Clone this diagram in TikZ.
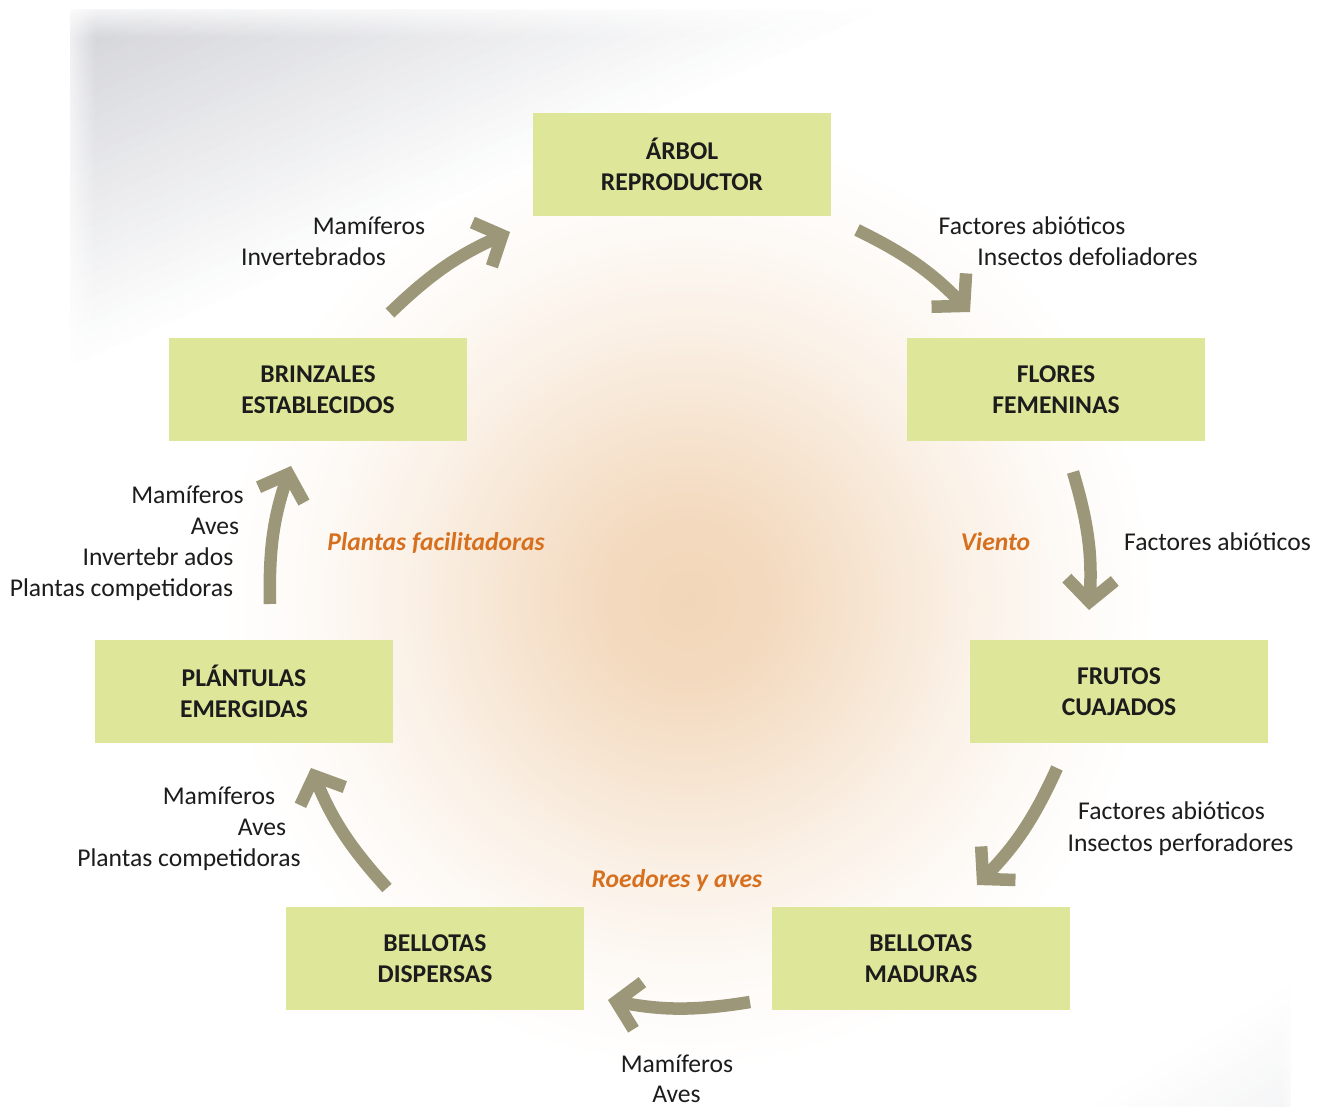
\documentclass[tikz,border=0pt]{standalone}
\usepackage{fontspec}
\setmainfont{Carlito}
\usetikzlibrary{arrows.meta,fadings}
\definecolor{boxc}{RGB}{221,230,153}
\definecolor{arrc}{RGB}{155,151,120}
\definecolor{orangec}{RGB}{214,112,30}
\definecolor{glowc}{RGB}{242,214,184}
\definecolor{shadc}{RGB}{210,211,216}
\definecolor{txtc}{RGB}{28,28,28}
\pgfdeclareradialshading{glowsh}{\pgfpointorigin}{color(0bp)=(glowc); color(5bp)=(glowc!88!white); color(10bp)=(glowc!62!white); color(15bp)=(glowc!34!white); color(20bp)=(glowc!13!white); color(25bp)=(white); color(50bp)=(white)}
\begin{document}
\begin{tikzpicture}[x=1pt,y=1pt,
  stage/.style={fill=boxc, minimum width=298pt, minimum height=103pt, inner sep=0pt, align=center, font=\fontsize{25.6}{31}\selectfont\bfseries, text=txtc},
  lbl/.style={anchor=base, inner sep=0pt, font=\fontsize{25.6}{31}\selectfont, text=txtc},
  agent/.style={anchor=base, inner sep=0pt, font=\fontsize{25.6}{31}\selectfont\bfseries\itshape, text=orangec},
  flow/.style={draw=arrc, line width=12.5pt, -{Straight Barb[length=22pt,width=48pt]}, bend left=10}
]
\useasboundingbox (0,0) rectangle (1321,1106);
\fill[white] (0,0) rectangle (1321,1106);
\begin{scope}
\clip (0,0) rectangle (1321,1106);
% central glow
\shade[shading=glowsh] (688,506) circle (470);
% top-left shadow
\foreach \i in {0,...,29} {
  \pgfmathsetmacro\f{1-\i/30}
  \pgfmathsetmacro\c{(\i+1)/30*100}
  \pgfmathsetmacro\ly{1096-356*\f}
  \pgfmathsetmacro\tx{70+810*\f}
  \fill[shadc!\c!white] (70,1096) -- (70,\ly) -- (\tx,1096) -- cycle;
}
\fill[white, path fading=east] (56,600) rectangle (96,1106);
\fill[white, path fading=south] (56,1068) rectangle (1000,1106);
% bottom-right faint shadow
\foreach \i in {0,...,14} {
  \pgfmathsetmacro\f{1-\i/15}
  \pgfmathsetmacro\c{(\i+1)/15*22}
  \pgfmathsetmacro\ly{120*\f}
  \pgfmathsetmacro\tx{1290-200*\f}
  \fill[shadc!\c!white] (1290,0) -- (1290,\ly) -- (\tx,0) -- cycle;
}
\fill[white, path fading=west] (1278,0) rectangle (1300,200);
\end{scope}

% stages
\node[stage] (arbol) at (682,941.5) {ÁRBOL\\REPRODUCTOR};
\node[stage] (flores) at (1056,716.5) {FLORES\\FEMENINAS};
\node[stage] (frutos) at (1119,414.5) {FRUTOS\\CUAJADOS};
\node[stage] (maduras) at (921,147.5) {BELLOTAS\\MADURAS};
\node[stage] (dispersas) at (435,147.5) {BELLOTAS\\DISPERSAS};
\node[stage] (plantulas) at (244,414.5) {PLÁNTULAS\\EMERGIDAS};
\node[stage] (brinzales) at (318,716.5) {BRINZALES\\ESTABLECIDOS};

% arrow end points
\coordinate (a1s) at (390,793);  \coordinate (a1e) at (510,874);
\coordinate (a2s) at (857,876);  \coordinate (a2e) at (970,794);
\coordinate (a3s) at (1073,634); \coordinate (a3e) at (1089,496);
\coordinate (a4s) at (1057,338); \coordinate (a4e) at (977,221);
\coordinate (a5s) at (750,104);  \coordinate (a5e) at (608,106);
\coordinate (a6s) at (387,218);  \coordinate (a6e) at (311,338);
\coordinate (a7s) at (270,502);  \coordinate (a7e) at (291,640);
\draw[flow] (a1s) to (a1e);
\draw[flow] (a2s) to (a2e);
\draw[flow] (a3s) to (a3e);
\draw[flow] (a4s) to (a4e);
\draw[flow] (a5s) to (a5e);
\draw[flow] (a6s) to (a6e);
\draw[flow] (a7s) to (a7e);

% labels
\node[lbl] (t1a) at (369,871) {Mamíferos};
\node[lbl] (t1b) at (313.5,840) {Invertebrados};
\node[lbl] (t2a) at (1032,871) {Factores abióticos};
\node[lbl] (t2b) at (1087.5,840) {Insectos defoliadores};
\node[lbl] (t3a) at (1217.5,555) {Factores abióticos};
\node[agent] (ag1) at (995.5,555) {Viento};
\node[agent] (ag2) at (436,555) {Plantas facilitadoras};
\node[lbl] (t7a) at (187.5,602) {Mamíferos};
\node[lbl] (t7b) at (215,571) {Aves};
\node[lbl] (t7c) at (158,540) {Invertebr ados};
\node[lbl] (t7d) at (121.5,509) {Plantas competidoras};
\node[lbl] (t4a) at (1171.5,287) {Factores abióticos};
\node[lbl] (t4b) at (1180.5,255) {Insectos perforadores};
\node[agent] (ag3) at (677,219) {Roedores y aves};
\node[lbl] (t6a) at (219,302) {Mamíferos};
\node[lbl] (t6b) at (262,271) {Aves};
\node[lbl] (t6c) at (189,240) {Plantas competidoras};
\node[lbl] (t5a) at (677,34) {Mamíferos};
\node[lbl] (t5b) at (676.5,4) {Aves};
\end{tikzpicture}
\end{document}
